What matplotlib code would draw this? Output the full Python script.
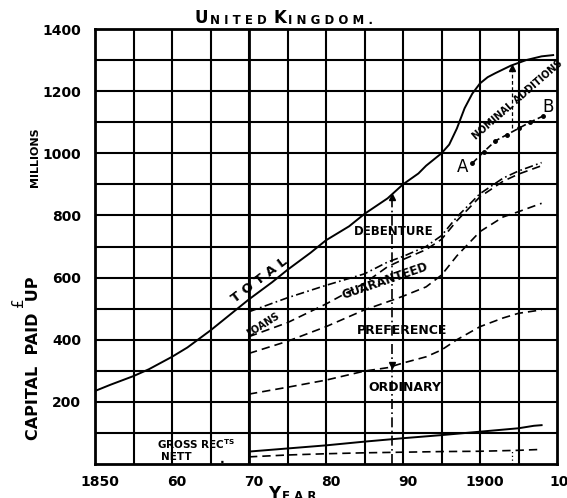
import matplotlib.pyplot as plt
import matplotlib.transforms as mtransforms

# values (millions of pounds)
total_years = [1850, 1852, 1855, 1857, 1860, 1862, 1865, 1868, 1870, 1873, 1875, 1878,
               1880, 1883, 1885, 1888, 1890, 1892, 1893, 1895, 1896, 1897, 1898, 1899,
               1900, 1901, 1902, 1904, 1906, 1908, 1909.5]
total = [235, 255, 283, 305, 345, 375, 430, 490, 530, 585, 625, 680,
         720, 765, 805, 855, 900, 935, 960, 1000, 1028, 1080, 1145, 1192,
         1225, 1245, 1258, 1282, 1300, 1312, 1316]

years = [1870, 1875, 1880, 1885, 1888, 1890, 1893, 1895, 1897, 1900, 1903, 1905, 1908]
loans_top = [490, 535, 575, 612, 650, 668, 700, 735, 795, 870, 920, 943, 970]
guaranteed_top = [410, 455, 515, 582, 635, 658, 690, 723, 783, 860, 910, 933, 960]
preference_top = [356, 395, 442, 496, 522, 540, 570, 608, 670, 748, 795, 812, 839]
ordinary_top = [225, 247, 270, 299, 310, 325, 345, 367, 400, 442, 470, 485, 496]

receipt_years = [1870, 1875, 1880, 1885, 1890, 1895, 1900, 1905, 1907, 1908]
gross = [40, 50, 60, 72, 83, 93, 104, 115, 123, 125]
nett = [23, 29, 33, 36, 38, 40, 41, 44, 46, 47]

ab_years = [1899, 1900.5, 1902, 1903.5, 1905, 1906.5, 1908.2]
ab_values = [968, 1005, 1040, 1060, 1080, 1100, 1120]

break_year = 1888.6
nominal_year = 1904.2

xticks = [1850, 1860, 1870, 1880, 1890, 1900, 1910]
xtick_labels = ['1850', '60', '70', '80', '90', '1900', '10']
yticks = [200, 400, 600, 800, 1000, 1200, 1400]

W, H = 567, 498
fig = plt.figure(figsize=(W / 100, H / 100), dpi=100)
ax = fig.add_axes([95 / W, 1 - 464 / H, 462 / W, 435 / H])

ax.set_xlim(1850, 1910)
ax.set_ylim(0, 1400)

# heavy drawn grid, every 5 years and 100 millions
for x in range(1855, 1910, 5):
    ax.axvline(x, color='black', lw=1.5, zorder=1)
for y in range(100, 1400, 100):
    ax.axhline(y, color='black', lw=1.5, zorder=1)
ax.axvline(1870, color='black', lw=2, zorder=1)
for s in ax.spines.values():
    s.set_linewidth(2)

dash = (0, (5, 3))
ax.plot(total_years, total, color='black', lw=1.4, zorder=3)
ax.plot(years, loans_top, color='black', lw=1.2, ls=(0, (5, 2, 1, 2)), zorder=3)
ax.plot(years, guaranteed_top, color='black', lw=1.2, ls=dash, zorder=3)
ax.plot(years, preference_top, color='black', lw=1.2, ls=dash, zorder=3)
ax.plot(years, ordinary_top, color='black', lw=1.2, ls=dash, zorder=3)
ax.plot(receipt_years, gross, color='black', lw=1.4, zorder=3)
ax.plot(receipt_years, nett, color='black', lw=1.2, ls=dash, zorder=3)
ax.plot(ab_years, ab_values, color='black', lw=1.2, ls=(0, (4, 2)),
        marker='o', ms=2.5, zorder=3)

# the break of 1888 and the nominal additions
ax.plot([break_year, break_year], [0, 860], color='black', lw=1.2,
        ls=(0, (6, 2, 1, 2)), zorder=3)
ax.plot([break_year], [860], marker='^', color='black', ms=4, zorder=4)
ax.plot([break_year], [318], marker='v', color='black', ms=4, zorder=4)
ax.plot([nominal_year, nominal_year], [1080, 1275], color='black', lw=0.9,
        ls=(0, (3, 2)), zorder=3)
ax.plot([nominal_year], [1275], marker='^', color='black', ms=4, zorder=4)
ax.plot([nominal_year, nominal_year], [0, 45], color='black', lw=0.9,
        ls=(0, (1, 2)), zorder=3)

tfont = dict(color='black', fontweight='bold', ha='center', va='center', zorder=5)
ax.text(1871.4, 592, 'T O T A L', fontsize=9.5, rotation=37, **tfont)
ax.text(1871.8, 447, 'LOANS', fontsize=7, rotation=32, **tfont)
ax.text(1887.7, 588, 'GUARANTEED', fontsize=8.5, rotation=19, **tfont)
ax.text(1888.8, 747, 'DEBENTURE', fontsize=8.5, **tfont)
ax.text(1889.9, 431, 'PREFERENCE', fontsize=9, **tfont)
ax.text(1890.3, 245, 'ORDINARY', fontsize=9, **tfont)
ax.text(1904.9, 1172, 'NOMINAL ADDITIONS', fontsize=7, rotation=41, **tfont)
ax.text(1897.7, 955, 'A', fontsize=12, color='black', ha='center', va='center')
ax.text(1908.8, 1148, 'B', fontsize=12, color='black', ha='center', va='center')
ax.text(1863.2, 64, r'GROSS REC$^{\mathbf{TS}}$', fontsize=7.5, **tfont)
ax.text(1860.5, 21, 'NETT', fontsize=7.5, **tfont)
ax.text(1866.5, 14, '.', fontsize=9, **tfont)

ax.set_xticks(xticks)
ax.set_xticklabels(xtick_labels, fontsize=10, fontweight='bold')
ax.set_yticks(yticks)
ax.set_yticklabels([str(v) for v in yticks], fontsize=10, fontweight='bold')
ax.tick_params(axis='x', length=0, pad=8)
ax.tick_params(axis='y', length=0, pad=10)
for i, lab in enumerate(ax.get_xticklabels()):
    dx = 0.02 if i == len(xticks) - 1 else 0.05
    lab.set_transform(lab.get_transform()
                      + mtransforms.ScaledTranslation(dx, 0, fig.dpi_scale_trans))


def caps_text(x_px, y_px, pieces):
    # old style small capitals: pieces of (text, size) set one after another
    t = fig.text(x_px / W, 1 - y_px / H, pieces[0][0], fontsize=pieces[0][1],
                 fontweight='bold', ha='left', va='baseline')
    for s, size in pieces[1:]:
        t = ax.annotate(s, xy=(1, 0), xycoords=t, xytext=(1, 0),
                        textcoords='offset points', fontsize=size,
                        fontweight='bold', ha='left', va='bottom',
                        annotation_clip=False)


caps_text(195, 23, [('U', 12), ('N I T E D', 8.5), (' ', 8.5), ('K', 12),
                    ('I N G D O M .', 8.5)])
caps_text(268, 499, [('Y', 12), ('E A R', 8.5)])

fig.text(34 / W, 1 - 358 / H, 'CAPITAL  PAID  UP', fontsize=11.5,
         fontweight='bold', rotation=90, ha='center', va='center')
fig.text(19 / W, 1 - 302 / H, '£', fontsize=11, rotation=90,
         ha='center', va='center')
fig.text(35 / W, 1 - 157 / H, 'MILLIONS', fontsize=8, fontweight='bold',
         rotation=90, ha='center', va='center')

fig.savefig('out.png', dpi=100)
